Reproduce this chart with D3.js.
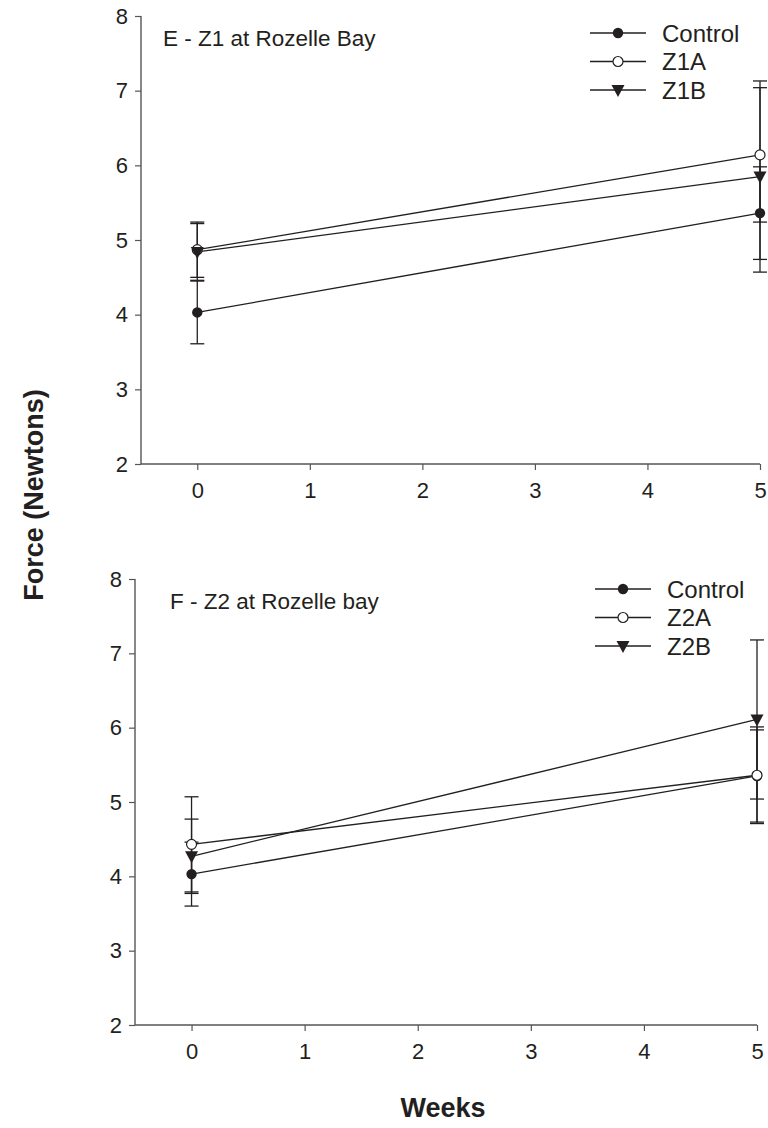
<!DOCTYPE html>
<html><head><meta charset="utf-8">
<script src="https://cdn.jsdelivr.net/npm/d3@7"></script>
<style>body{margin:0;background:#fff}svg{display:block}text{font-family:"Liberation Sans",Arial,sans-serif;fill:#231f20}</style>
</head><body>
<svg id="chart" width="768" height="1128"></svg>
<script>
const weeks = [0, 5];
const yTicks = [2, 3, 4, 5, 6, 7, 8];
const xTicks = [0, 1, 2, 3, 4, 5];

// Panel E
const eTitle = "E - Z1 at Rozelle Bay";
const eSeries = ["Control", "Z1A", "Z1B"];
const eControl = [4.03, 5.36];
const eControlErr = [0.42, 0.62];
const eZ1A = [4.87, 6.14];
const eZ1AErr = [0.37, 0.90];
const eZ1B = [4.84, 5.85];
const eZ1BErr = [0.38, 1.28];

// Panel F
const fTitle = "F - Z2 at Rozelle bay";
const fSeries = ["Control", "Z2A", "Z2B"];
const fControl = [4.03, 5.35];
const fControlErr = [0.43, 0.62];
const fZ2A = [4.43, 5.36];
const fZ2AErr = [0.64, 0.65];
const fZ2B = [4.27, 6.11];
const fZ2BErr = [0.50, 1.07];

const markers = ["filled", "open", "triangle"];
const svg = d3.select("#chart");
const ink = "#231f20";

function panel(cfg) {
  const x = d3.scaleLinear().domain([-0.5, 5]).range([cfg.left, cfg.right]);
  const y = d3.scaleLinear().domain([2, 8]).range([cfg.bottom, cfg.top]);
  const g = svg.append("g");

  const yAx = g.append("g").attr("transform", `translate(${cfg.left},0)`)
    .call(d3.axisLeft(y).tickValues(yTicks).tickSize(6).tickPadding(7).tickFormat(d3.format("d")));
  const xAx = g.append("g").attr("transform", `translate(0,${cfg.bottom})`)
    .call(d3.axisBottom(x).tickValues(xTicks).tickSize(6).tickPadding(12).tickFormat(d3.format("d")));
  [yAx, xAx].forEach(a => {
    a.select(".domain").attr("stroke", "#555").attr("stroke-width", 1.4);
    a.selectAll(".tick line").attr("stroke", "#555").attr("stroke-width", 1.2);
    a.selectAll(".tick text").style("font-size", "22px").attr("fill", ink);
  });
  xAx.select(".domain").attr("d", `M${cfg.left},0H${cfg.right}`);
  yAx.select(".domain").attr("d", `M0,${cfg.top}V${cfg.bottom}`);

  g.append("text").attr("x", cfg.left + cfg.titleDx).attr("y", cfg.top + 30)
    .style("font-size", "22.5px").text(cfg.title);

  const series = cfg.names.map((n, i) => ({name: n, vals: cfg.vals[i], errs: cfg.errs[i], m: markers[i]}));

  // error bars
  series.forEach(s => {
    weeks.forEach((w, j) => {
      const cx = x(w), lo = y(s.vals[j] - s.errs[j]), hi = y(s.vals[j] + s.errs[j]);
      g.append("line").attr("x1", cx).attr("x2", cx).attr("y1", lo).attr("y2", hi)
        .attr("stroke", ink).attr("stroke-width", 1.3);
      [lo, hi].forEach(yy => g.append("line").attr("x1", cx - 7).attr("x2", cx + 7)
        .attr("y1", yy).attr("y2", yy).attr("stroke", ink).attr("stroke-width", 1.3));
    });
  });
  // lines
  const line = d3.line().x((d, j) => x(weeks[j])).y(d => y(d));
  series.forEach(s => {
    g.append("path").attr("d", line(s.vals)).attr("fill", "none").attr("stroke", ink).attr("stroke-width", 1.3);
  });
  function drawMarker(sel, m, cx, cy) {
    if (m === "filled") sel.append("circle").attr("cx", cx).attr("cy", cy).attr("r", 5.2).attr("fill", ink);
    else if (m === "open") sel.append("circle").attr("cx", cx).attr("cy", cy).attr("r", 5).attr("fill", "#fff").attr("stroke", ink).attr("stroke-width", 1.2);
    else sel.append("path").attr("d", `M${cx - 6.5},${cy - 5}L${cx + 6.5},${cy - 5}L${cx},${cy + 7}Z`).attr("fill", ink);
  }
  series.forEach(s => weeks.forEach((w, j) => drawMarker(g, s.m, x(w), y(s.vals[j]))));

  // legend
  series.forEach((s, i) => {
    const ly = cfg.legY + i * 28.5;
    g.append("line").attr("x1", cfg.legX).attr("x2", cfg.legX + 56).attr("y1", ly).attr("y2", ly)
      .attr("stroke", ink).attr("stroke-width", 1.3);
    drawMarker(g, s.m, cfg.legX + 28, ly);
    g.append("text").attr("x", cfg.legX + 72).attr("y", ly + 8.5).style("font-size", "24px").text(s.name);
  });
}

panel({left: 141, right: 760, top: 16, bottom: 464, title: eTitle, titleDx: 22, names: eSeries,
  vals: [eControl, eZ1A, eZ1B], errs: [eControlErr, eZ1AErr, eZ1BErr], legX: 590, legY: 33});
panel({left: 135, right: 757, top: 579, bottom: 1025, title: fTitle, titleDx: 35, names: fSeries,
  vals: [fControl, fZ2A, fZ2B], errs: [fControlErr, fZ2AErr, fZ2BErr], legX: 595, legY: 589});

svg.append("text").attr("transform", "translate(43,495) rotate(-90)").attr("text-anchor", "middle")
  .style("font-size", "27px").style("font-weight", "bold").text("Force (Newtons)");
svg.append("text").attr("x", 443).attr("y", 1117).attr("text-anchor", "middle")
  .style("font-size", "27px").style("font-weight", "bold").text("Weeks");
</script>
</body></html>
